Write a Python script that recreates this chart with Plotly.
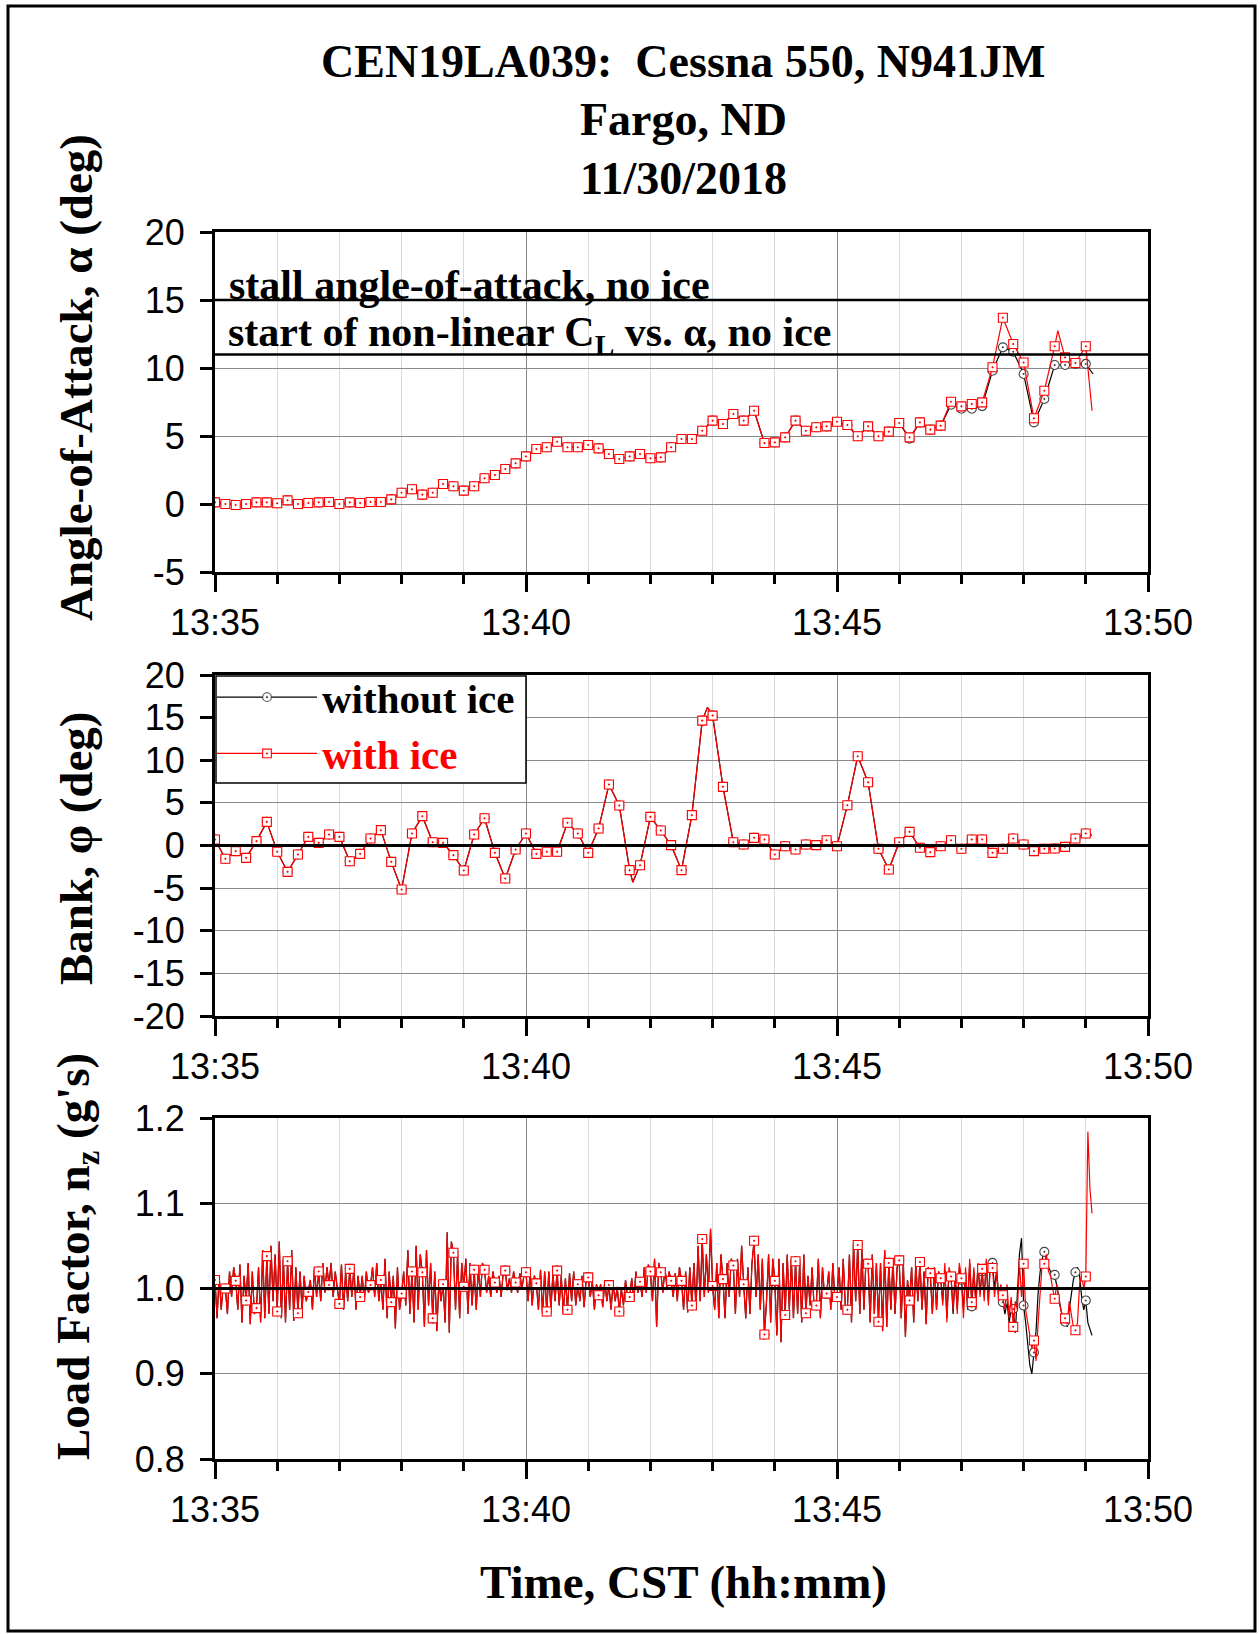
import plotly.graph_objects as go

W, H = 1260, 1634

# ---------------- data ----------------
# Angle of attack / bank: one sample every 10 s starting 13:35:00 (seconds after 13:35)
aoa_step = 10
aoa_with_ice = [
    0.12, 0.0, -0.07, 0.0, 0.12, 0.12, 0.05, 0.27, 0.0, 0.07,
    0.12, 0.15, 0.0, 0.12, 0.07, 0.15, 0.15, 0.34, 0.83, 1.08,
    0.69, 0.83, 1.47, 1.30, 0.98, 1.30, 1.89, 2.13, 2.57, 2.99,
    3.5, 4.04, 4.17, 4.58, 4.17, 4.17, 4.34, 4.09, 3.68, 3.31,
    3.5, 3.68, 3.36, 3.43, 4.17, 4.78, 4.78, 5.39, 6.13, 5.88,
    6.62, 6.13, 6.86, 4.48, 4.53, 4.9, 6.13, 5.39, 5.64, 5.71,
    6.05, 5.81, 4.98, 5.71, 4.98, 5.32, 5.96, 4.9, 6.0, 5.47,
    5.76, 7.52, 7.18, 7.35, 7.47, 10.05, 13.7, 11.76, 10.4, 6.3,
    8.33, 11.6, 10.78, 10.37, 11.6,
]
aoa_with_ice_extra_t = [813, 846]
aoa_with_ice_extra = [12.74, 6.86]

aoa_without_ice = [
    0.12, 0.0, -0.07, 0.0, 0.12, 0.12, 0.05, 0.27, 0.0, 0.07,
    0.12, 0.15, 0.0, 0.12, 0.07, 0.15, 0.15, 0.34, 0.83, 1.08,
    0.69, 0.83, 1.47, 1.30, 0.98, 1.30, 1.89, 2.13, 2.57, 2.99,
    3.5, 4.04, 4.17, 4.58, 4.17, 4.17, 4.34, 4.09, 3.68, 3.31,
    3.5, 3.68, 3.36, 3.43, 4.17, 4.78, 4.78, 5.39, 6.13, 5.88,
    6.62, 6.13, 6.86, 4.48, 4.53, 4.9, 6.13, 5.39, 5.64, 5.71,
    6.05, 5.81, 4.98, 5.71, 4.98, 5.32, 5.96, 4.8, 6.0, 5.47,
    5.76, 7.3, 7.0, 7.0, 7.2, 9.8, 11.52, 11.2, 9.56, 6.0,
    7.72, 10.22, 10.22, 10.3, 10.3,
]
aoa_without_ice_extra_t = [847]
aoa_without_ice_extra = [9.56]

bank_with_ice = [
    0.70, -1.56, -0.66, -1.45, 0.51, 2.77, -0.74, -3.09, -1.06, 1.01,
    0.31, 1.29, 1.01, -1.84, -0.98, 0.82, 1.80, -1.92, -5.16, 1.41,
    3.44, 0.39, 0.31, -1.13, -2.93, 1.29, 3.2, -0.86, -3.87, -0.47,
    1.41, -0.98, -0.74, -0.74, 2.66, 1.41, -0.86, 1.99, 7.15, 4.69,
    -2.89, -2.31, 3.36, 1.76, 0.04, -2.89, 3.56, 14.65, 15.24, 6.88,
    0.39, 0.12, 0.9, 0.70, -1.06, -0.08, -0.47, 0.12, 0.04, 0.62,
    -0.08, 4.73, 10.47, 7.42, -0.39, -2.81, 0.39, 1.6, -0.27, -0.78,
    -0.08, 0.62, -0.39, 0.70, 0.70, -0.86, -0.39, 0.82, 0.12, -0.66,
    -0.39, -0.35, -0.16, 0.82, 1.41,
]
bank_extra_t = [403, 475, 846]
bank_extra = [-4.3, 16.2, 1.2]
bank_without_ice = list(bank_with_ice)

# Load factor: one sample every 2 s starting 13:35:00
nz_step = 2
nz_with_ice = [
    1.010, 0.965, 1.015, 0.975, 1.005, 1.000, 0.970, 1.020, 0.990, 1.025,
    1.009, 0.975, 1.028, 0.960, 1.015, 0.986, 1.030, 0.958, 1.020, 0.970,
    0.977, 1.025, 0.960, 1.045, 0.965, 1.038, 0.970, 1.050, 0.985, 1.040,
    0.973, 1.055, 0.965, 1.035, 0.960, 1.032, 0.975, 1.045, 0.962, 1.025,
    0.971, 1.020, 0.975, 1.015, 0.985, 0.996, 1.010, 0.975, 1.025, 0.990,
    1.020, 0.985, 1.030, 0.995, 1.025, 1.004, 1.030, 0.990, 1.020, 1.000,
    0.982, 1.028, 0.975, 1.020, 0.985, 1.023, 0.990, 1.025, 0.975, 1.015,
    0.990, 1.015, 0.985, 1.020, 0.995, 1.004, 1.025, 0.990, 1.030, 0.985,
    1.010, 0.975, 1.035, 0.965, 1.020, 0.984, 1.015, 0.953, 1.025, 0.975,
    0.994, 1.020, 0.980, 1.045, 0.970, 1.020, 0.960, 1.050, 0.975, 1.040,
    1.019, 0.955, 1.045, 0.980, 1.030, 0.965, 1.020, 0.950, 1.010, 0.985,
    1.005, 0.960, 1.066, 0.948, 1.055, 1.042, 0.975, 1.040, 0.965, 1.030,
    1.002, 1.035, 0.970, 1.030, 0.980, 1.022, 0.975, 1.025, 0.990, 1.030,
    1.022, 0.995, 1.015, 0.990, 1.020, 1.007, 0.995, 1.015, 0.990, 1.018,
    1.021, 0.998, 1.012, 0.995, 1.020, 1.007, 0.995, 1.018, 1.000, 1.015,
    1.019, 0.985, 1.020, 0.980, 1.015, 1.006, 0.975, 1.022, 0.970, 1.020,
    0.973, 1.020, 0.975, 1.018, 0.985, 1.021, 0.980, 1.015, 0.970, 1.012,
    0.975, 1.018, 0.985, 1.020, 0.980, 1.005, 0.985, 1.015, 0.978, 1.010,
    1.013, 0.990, 1.008, 0.975, 1.005, 0.992, 1.005, 0.978, 1.008, 0.985,
    1.004, 0.975, 1.006, 0.985, 1.002, 0.973, 1.000, 0.980, 1.010, 0.990,
    0.990, 1.012, 0.985, 1.020, 0.995, 1.008, 0.990, 1.025, 0.995, 1.028,
    1.020, 0.985, 1.035, 0.955, 1.030, 1.019, 0.995, 1.025, 1.000, 1.020,
    1.009, 0.990, 1.018, 0.985, 1.025, 1.009, 0.975, 1.020, 0.972, 1.025,
    0.980, 1.030, 0.975, 1.050, 0.985, 1.058, 0.990, 1.040, 0.995, 1.070,
    1.003, 0.975, 1.030, 0.965, 1.040, 1.011, 0.965, 1.030, 0.990, 1.035,
    1.027, 0.970, 1.035, 0.990, 1.050, 1.005, 0.965, 1.025, 0.970, 1.030,
    1.056, 0.990, 1.040, 0.975, 1.035, 0.946, 0.985, 1.040, 0.960, 1.035,
    1.009, 0.945, 1.035, 0.937, 1.030, 0.969, 1.040, 0.975, 1.035, 0.965,
    1.032, 0.970, 1.030, 0.960, 1.040, 0.971, 1.015, 0.980, 1.025, 0.975,
    0.980, 1.035, 0.965, 1.025, 0.990, 0.994, 1.020, 0.975, 1.030, 0.985,
    0.990, 1.025, 0.975, 1.035, 0.980, 0.975, 1.040, 0.960, 1.054, 0.985,
    1.051, 0.970, 1.045, 0.975, 1.035, 1.029, 0.960, 1.040, 0.970, 1.030,
    0.961, 1.030, 0.950, 1.045, 0.955, 1.030, 0.975, 1.035, 0.970, 1.025,
    1.033, 0.965, 1.030, 0.943, 1.010, 0.986, 1.025, 0.960, 1.030, 0.985,
    1.031, 0.975, 1.020, 0.958, 1.025, 1.018, 0.970, 1.025, 0.975, 1.020,
    1.012, 0.980, 1.030, 0.960, 1.025, 1.014, 0.975, 1.020, 0.970, 1.030,
    1.012, 0.965, 1.025, 0.980, 1.035, 0.984, 1.025, 0.975, 1.030, 0.990,
    1.023, 0.985, 1.035, 0.980, 1.030, 1.024, 0.990, 1.020, 0.985, 1.005,
    0.992, 0.975, 1.005, 0.965, 0.990, 0.955, 0.985, 0.975, 1.030, 0.990,
    1.029, 0.975, 0.960, 0.945, 0.930, 0.939, 0.915, 0.960, 1.000, 1.030,
    1.029, 1.040, 1.020, 1.015, 1.000, 0.988, 1.005, 0.985, 0.975, 0.965,
    0.965, 0.958, 0.985, 0.970, 0.955, 0.951, 0.960, 1.005, 1.015, 1.000,
    1.014, 1.184, 1.117, 1.088,
]
nz_without_ice_tail = [
    1.012, 0.985, 1.022, 0.965, 1.020, 1.014, 0.970, 1.015, 0.975, 1.025,
    1.010, 0.975, 1.020, 0.975, 1.030, 0.979, 1.020, 0.985, 1.028, 0.995,
    1.020, 0.990, 1.030, 0.985, 1.035, 1.030, 1.000, 1.022, 0.990, 1.000,
    0.984, 0.970, 0.985, 0.960, 0.975, 0.976, 0.948, 0.990, 1.040, 1.059,
    0.980, 0.960, 0.930, 0.910, 0.900, 0.925, 0.950, 0.995, 1.020, 1.035,
    1.043, 1.035, 1.025, 1.020, 1.015, 1.016, 1.005, 0.990, 0.975, 0.965,
    0.961, 0.955, 0.975, 0.995, 1.010, 1.019, 1.025, 1.015, 0.990, 0.975,
    0.986, 0.960, 0.952, 0.945,
]
nz_without_ice = nz_with_ice[:350] + nz_without_ice_tail

stall_aoa = 15
nonlinear_aoa = 11

x_ticks_s = [0, 300, 600, 900]
x_tick_text = ["13:35", "13:40", "13:45", "13:50"]
aoa_ticks = [-5, 0, 5, 10, 15, 20]
bank_ticks = [-20, -15, -10, -5, 0, 5, 10, 15, 20]
nz_ticks = [0.8, 0.9, 1.0, 1.1, 1.2]

# ---------------- helpers ----------------
def px(x):
    return x / W


def py(y):
    return 1 - y / H


def build(step, vals, extra_t=(), extra_v=(), mark_every=1, msize=9):
    pts = [(i * step, v, (i % mark_every == 0)) for i, v in enumerate(vals)]
    pts += [(t, v, False) for t, v in zip(extra_t, extra_v)]
    pts.sort(key=lambda p: p[0])
    xs = [p[0] for p in pts]
    ys = [p[1] for p in pts]
    sizes = [msize if p[2] else 0 for p in pts]
    ops = [1 if p[2] else 0 for p in pts]
    return xs, ys, sizes, ops


RED = "#ff0000"
BLACK = "#000000"
SERIF = "Liberation Serif"
SANS = "Liberation Sans"

fig = go.Figure()


def add_series(xa, ya, xs, ys, sizes, ops, color, symbol, name, showlegend, lw=1.2, mcolor=None):
    fig.add_trace(go.Scatter(
        x=xs, y=ys, xaxis=xa, yaxis=ya, mode="lines+markers", name=name,
        showlegend=showlegend,
        line=dict(color=color, width=lw),
        marker=dict(symbol=symbol, size=sizes, opacity=ops, color="white",
                    line=dict(color=mcolor or color, width=1.1)),
    ))


# AoA panel
b = build(aoa_step, aoa_without_ice, aoa_without_ice_extra_t, aoa_without_ice_extra)
add_series("x", "y", *b, BLACK, "circle-dot", "without ice", False, mcolor="#444")
r = build(aoa_step, aoa_with_ice, aoa_with_ice_extra_t, aoa_with_ice_extra)
add_series("x", "y", *r, RED, "square-dot", "with ice", False)

# Bank panel (legend entries)
b = build(aoa_step, bank_without_ice, bank_extra_t, bank_extra)
add_series("x2", "y2", *b, BLACK, "circle-dot", "<b>without ice</b>", True, mcolor="#444")
r = build(aoa_step, bank_with_ice, bank_extra_t, bank_extra)
add_series("x2", "y2", *r, RED, "square-dot",
           "<b><span style='color:#ff0000'>with ice</span></b>", True)

# Load-factor panel
b = build(nz_step, nz_without_ice, mark_every=5)
add_series("x3", "y3", *b, BLACK, "circle-dot", "without ice", False, lw=1.2, mcolor="#444")
r = build(nz_step, nz_with_ice, mark_every=5)
add_series("x3", "y3", *r, RED, "square-dot", "with ice", False, lw=1.2)

# ---------------- axes ----------------
X0, X1 = 215, 1148
panels = [(232, 572), (675, 1016), (1118, 1459)]


def xaxis_cfg(anchor, top, bot):
    return dict(
        domain=[px(X0), px(X1)], anchor=anchor, range=[0, 900], automargin=False,
        tickmode="array", tickvals=x_ticks_s, ticktext=x_tick_text,
        ticks="outside", ticklen=17, tickwidth=3, tickcolor="black",
        showline=True, linewidth=3, linecolor="black", mirror=True,
        showgrid=True, gridcolor="#8a8a8a", gridwidth=1, zeroline=False,
        minor=dict(dtick=60, tick0=0, ticks="outside", ticklen=9, tickwidth=2.5,
                   tickcolor="black", showgrid=True, gridcolor="#dadada", gridwidth=1),
        tickfont=dict(family=SANS, size=36, color="black"),
        ticklabelstandoff=0,
    )


def yaxis_cfg(anchor, top, bot, ticks, labels):
    return dict(
        domain=[py(bot), py(top)], anchor=anchor, range=[ticks[0], ticks[-1]],
        automargin=False, tickmode="array", tickvals=ticks, ticktext=labels,
        ticks="outside", ticklen=12, tickwidth=2.5, tickcolor="black",
        showline=True, linewidth=3, linecolor="black", mirror=True,
        showgrid=True, gridcolor="#8a8a8a", gridwidth=1, zeroline=False,
        tickfont=dict(family=SANS, size=36, color="black"),
        ticklabelstandoff=8,
    )


fig.update_layout(
    template="none",
    width=W, height=H, margin=dict(l=0, r=0, t=0, b=0, pad=0, autoexpand=False),
    paper_bgcolor="white", plot_bgcolor="white",
    xaxis=xaxis_cfg("y", *panels[0]),
    yaxis=yaxis_cfg("x", *panels[0], aoa_ticks, [str(v) for v in aoa_ticks]),
    xaxis2=xaxis_cfg("y2", *panels[1]),
    yaxis2=yaxis_cfg("x2", *panels[1], bank_ticks, [str(v) for v in bank_ticks]),
    xaxis3=xaxis_cfg("y3", *panels[2]),
    yaxis3=yaxis_cfg("x3", *panels[2], nz_ticks, [f"{v:.1f}" for v in nz_ticks]),
    legend=dict(x=px(212), y=py(664), xanchor="left", yanchor="top",
                bgcolor="rgba(0,0,0,0)", borderwidth=0,
                font=dict(family=SERIF, size=41, color="black"),
                itemwidth=100, tracegroupgap=0),
    showlegend=True,
)

# reference lines, legend box and outer frame
shapes = [
    dict(type="line", xref="x domain", yref="y", x0=0, x1=1, y0=stall_aoa, y1=stall_aoa,
         line=dict(color="black", width=2.5)),
    dict(type="line", xref="x domain", yref="y", x0=0, x1=1, y0=nonlinear_aoa, y1=nonlinear_aoa,
         line=dict(color="black", width=2.5)),
    dict(type="line", xref="x2 domain", yref="y2", x0=0, x1=1, y0=0, y1=0,
         line=dict(color="black", width=3)),
    dict(type="line", xref="x3 domain", yref="y3", x0=0, x1=1, y0=1.0, y1=1.0,
         line=dict(color="black", width=3)),
    dict(type="rect", xref="paper", yref="paper", x0=px(216), x1=px(526), y0=py(783), y1=py(676),
         line=dict(color="black", width=1.5), fillcolor="white", layer="above"),
    dict(type="rect", xref="paper", yref="paper", x0=px(8), x1=px(1255), y0=py(1631), y1=py(6),
         line=dict(color="black", width=3), fillcolor="rgba(0,0,0,0)"),
]
fig.update_layout(shapes=shapes)

TF = dict(family=SERIF, size=46, color="black")
AX = dict(family=SERIF, size=47, color="black")
ann = [
    dict(text="<b>CEN19LA039:  Cessna 550, N941JM</b>", x=px(683), y=py(62), font=TF),
    dict(text="<b>Fargo, ND</b>", x=px(683), y=py(120), font=TF),
    dict(text="<b>11/30/2018</b>", x=px(683), y=py(179), font=TF),
    dict(text="<b>Time, CST (hh:mm)</b>", x=px(683), y=py(1582), font=AX),
]
annotations = [dict(a, xref="paper", yref="paper", showarrow=False,
                    xanchor="center", yanchor="middle") for a in ann]

ytitles = [
    ("<b>Angle-of-Attack, α (deg)</b>", 378),
    ("<b>Bank, φ (deg)</b>", 848),
    ("<b>Load Factor, n<sub>z</sub> (g's)</b>", 1257),
]
for txt, yc in ytitles:
    annotations.append(dict(text=txt, x=px(76), y=py(yc), xref="paper", yref="paper",
                            showarrow=False, textangle=-90, font=AX,
                            xanchor="center", yanchor="middle"))

AF = dict(family=SERIF, size=42, color="black")
annotations.append(dict(text="<b>stall angle-of-attack, no ice</b>", x=px(227), y=py(285),
                        xref="paper", yref="paper", showarrow=False, font=AF,
                        xanchor="left", yanchor="middle"))
annotations.append(dict(text="<b>start of non-linear C<sub>L</sub> vs. α, no ice</b>", x=px(226), y=py(335),
                        xref="paper", yref="paper", showarrow=False, font=AF,
                        xanchor="left", yanchor="middle"))
fig.update_layout(annotations=annotations)

fig.write_html(
    "out.html",
    config={"displayModeBar": False},
    post_script="document.body.style.margin='0';document.body.style.overflow='hidden';",
)
